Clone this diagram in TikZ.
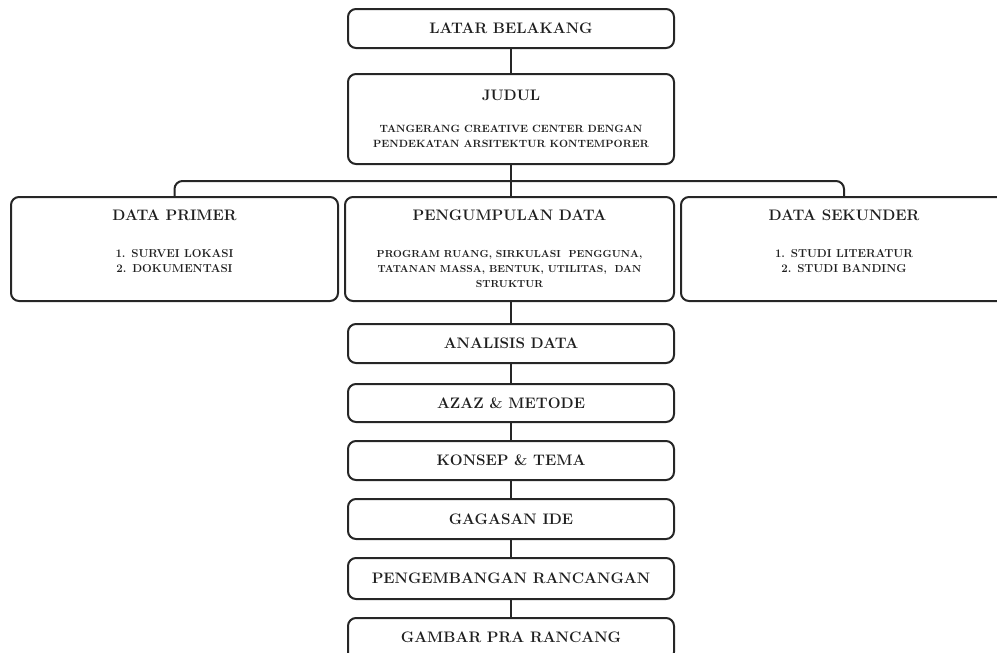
\documentclass[tikz,border=0pt]{standalone}
\usepackage{fontspec}
\usetikzlibrary{calc}
\begin{document}
\begin{tikzpicture}[x=1pt,y=-1pt,
  box/.style={draw=black!85, line width=2pt, rounded corners=8pt, anchor=north west, inner sep=0pt},
  conn/.style={draw=black!85, line width=2pt},
  ttl/.style={font=\fontsize{15.2}{16}\selectfont\bfseries, text=black!88, inner sep=0pt},
  bdy/.style={font=\fontsize{10.5}{15}\selectfont\bfseries, text=black!88, inner sep=0pt, align=center}]
\useasboundingbox (0,0) rectangle (997,653);
% boxes
\node[box, minimum width=326pt, minimum height=39pt] (latar) at (347,8) {};
\node[box, minimum width=326pt, minimum height=90pt] (judul) at (347,73) {};
\node[box, minimum width=327pt, minimum height=104pt] (primer) at (10,196) {};
\node[box, minimum width=329pt, minimum height=104pt] (kumpul) at (344,196) {};
\node[box, minimum width=326pt, minimum height=104pt] (sekunder) at (680,196) {};
\node[box, minimum width=326pt, minimum height=39pt] (analisis) at (347,323) {};
\node[box, minimum width=326pt, minimum height=38pt] (azaz) at (347,383) {};
\node[box, minimum width=326pt, minimum height=39pt] (konsep) at (347,440) {};
\node[box, minimum width=326pt, minimum height=40pt] (gagasan) at (347,498) {};
\node[box, minimum width=326pt, minimum height=41pt] (kembang) at (347,557) {};
\node[box, minimum width=326pt, minimum height=42pt] (gambar) at (347,617) {};
% texts
\node[ttl] at (latar.center) {LATAR BELAKANG};
\node[ttl] at ($(judul.north)+(0,22)$) {JUDUL};
\node[bdy] at ($(judul.north)+(0,63)$) {TANGERANG CREATIVE CENTER DENGAN\\PENDEKATAN ARSITEKTUR KONTEMPORER};
\node[ttl] at ($(primer.north)+(0,19)$) {DATA PRIMER};
\node[bdy, font=\fontsize{11.5}{15}\selectfont\bfseries] at ($(primer.north)+(0,65)$) {1. SURVEI LOKASI\\2. DOKUMENTASI};
\node[ttl] at ($(kumpul.north)+(0,19)$) {PENGUMPULAN DATA};
\node[bdy, font=\fontsize{10.2}{15}\selectfont\bfseries] at ($(kumpul.north)+(0,73)$) {PROGRAM RUANG, SIRKULASI\ \ PENGGUNA,\\TATANAN MASSA, BENTUK, UTILITAS,\ \ DAN\\STRUKTUR};
\node[ttl] at ($(sekunder.north)+(0,19)$) {DATA SEKUNDER};
\node[bdy, font=\fontsize{11.5}{15}\selectfont\bfseries] at ($(sekunder.north)+(0,65)$) {1. STUDI LITERATUR\\2. STUDI BANDING};
\node[ttl] at (analisis.center) {ANALISIS DATA};
\node[ttl] at (azaz.center) {AZAZ \& METODE};
\node[ttl] at (konsep.center) {KONSEP \& TEMA};
\node[ttl] at (gagasan.center) {GAGASAN IDE};
\node[ttl] at (kembang.center) {PENGEMBANGAN RANCANGAN};
\node[ttl] at ($(gambar.north)+(0,20)$) {GAMBAR PRA RANCANG};
% connectors
\draw[conn] (latar.south) -- (judul.north);
\draw[conn] (judul.south) -- (judul.south |- kumpul.north);
\draw[conn, rounded corners=8pt] (primer.north) |- ([yshift=15pt]sekunder.north) -- (sekunder.north);
\draw[conn] (analisis.north |- kumpul.south) -- (analisis.north);
\draw[conn] (analisis.south) -- (azaz.north);
\draw[conn] (azaz.south) -- (konsep.north);
\draw[conn] (konsep.south) -- (gagasan.north);
\draw[conn] (gagasan.south) -- (kembang.north);
\draw[conn] (kembang.south) -- (gambar.north);
\end{tikzpicture}
\end{document}
